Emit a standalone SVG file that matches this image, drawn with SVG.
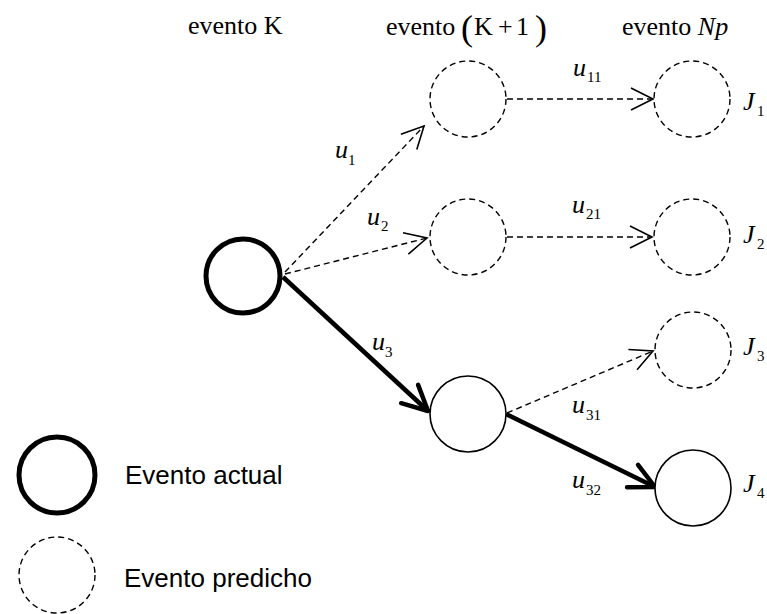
<svg xmlns="http://www.w3.org/2000/svg" width="767" height="614" viewBox="0 0 767 614">
<style>
  .serif{font-family:"Liberation Serif","Times New Roman",serif;fill:#000}
  .hdr{font-size:26px}
  .u{font-size:26px;font-style:italic}
  .sub{font-size:15px;font-style:normal}
  .J{font-size:26px;font-style:italic}
  .sans{font-family:"Liberation Sans",Arial,sans-serif;font-size:26px;fill:#000}
  .pred{fill:#fff;stroke:#000;stroke-width:1.4;stroke-dasharray:6 4}
  .act{fill:#fff;stroke:#000;stroke-width:5}
  .sol{fill:#fff;stroke:#000;stroke-width:1.6}
  .dl{fill:none;stroke:#000;stroke-width:1.4;stroke-dasharray:6 4}
  .tl{fill:none;stroke:#000;stroke-width:4.5}
</style>
<defs>
  <marker id="ah-thin" markerUnits="userSpaceOnUse" viewBox="-30 -16 34 32" refX="0" refY="0" markerWidth="34" markerHeight="32" orient="auto" overflow="visible">
    <path d="M-22,-11 L0,0 L-22,11" fill="none" stroke="#000" stroke-width="1.6" stroke-linejoin="miter"/>
  </marker>
  <marker id="ah-thick" markerUnits="userSpaceOnUse" viewBox="-30 -16 34 32" refX="0" refY="0" markerWidth="34" markerHeight="32" orient="auto" overflow="visible">
    <path d="M-25,-12.5 L0,0 L-25,12.5" fill="none" stroke="#000" stroke-width="4.5" stroke-linecap="round" stroke-linejoin="round"/>
  </marker>
</defs>

<g id="headers">
  <text class="serif hdr" x="188" y="34">evento K</text>
  <text class="serif hdr" x="386" y="35">evento</text>
  <text class="serif" x="461" y="40" font-size="36">(</text>
  <text class="serif hdr" x="474" y="35">K</text>
  <text class="serif hdr" x="498" y="35">+</text>
  <text class="serif hdr" x="516" y="35">1</text>
  <text class="serif" x="535" y="40" font-size="36">)</text>
  <text class="serif hdr" x="622" y="35">evento <tspan font-style="italic">Np</tspan></text>
</g>

<g id="connectors">
  <line class="dl" x1="285" y1="272" x2="424" y2="126" marker-end="url(#ah-thin)"/>
  <line class="dl" x1="285" y1="274" x2="427" y2="238" marker-end="url(#ah-thin)"/>
  <line class="tl" x1="283" y1="277" x2="428" y2="411" marker-end="url(#ah-thick)"/>
  <line class="dl" x1="507" y1="99" x2="653" y2="99" marker-end="url(#ah-thin)"/>
  <line class="dl" x1="507" y1="237" x2="652" y2="237" marker-end="url(#ah-thin)"/>
  <line class="dl" x1="507" y1="413" x2="653" y2="351" marker-end="url(#ah-thin)"/>
  <line class="tl" x1="506" y1="414" x2="655" y2="487" marker-end="url(#ah-thick)"/>
</g>

<g id="labels">
  <text class="serif u" x="335" y="158">u<tspan class="sub" x="348" y="165">1</tspan></text>
  <text class="serif u" x="367" y="225">u<tspan class="sub" x="381" y="231">2</tspan></text>
  <text class="serif u" x="372" y="350">u<tspan class="sub" x="385" y="357">3</tspan></text>
  <text class="serif u" x="573" y="76">u<tspan class="sub" x="587" y="82">11</tspan></text>
  <text class="serif u" x="572" y="213">u<tspan class="sub" x="586" y="219">21</tspan></text>
  <text class="serif u" x="572" y="413">u<tspan class="sub" x="586" y="420">31</tspan></text>
  <text class="serif u" x="572" y="488">u<tspan class="sub" x="586" y="495">32</tspan></text>
</g>

<g id="node-k">
  <circle class="act" cx="243" cy="276" r="37"/>
</g>
<g id="node-k1-1">
  <circle class="pred" cx="468" cy="99" r="38"/>
</g>
<g id="node-k1-2">
  <circle class="pred" cx="468" cy="237" r="38"/>
</g>
<g id="node-k1-3">
  <circle class="sol" cx="468" cy="414" r="38"/>
</g>
<g id="node-j1">
  <circle class="pred" cx="692" cy="99" r="38"/>
  <text class="serif J" x="743" y="110">J<tspan class="sub" x="757" y="116">1</tspan></text>
</g>
<g id="node-j2">
  <circle class="pred" cx="692" cy="237" r="38"/>
  <text class="serif J" x="743" y="243">J<tspan class="sub" x="757" y="249">2</tspan></text>
</g>
<g id="node-j3">
  <circle class="pred" cx="693" cy="350" r="38"/>
  <text class="serif J" x="743" y="355">J<tspan class="sub" x="757" y="361">3</tspan></text>
</g>
<g id="node-j4">
  <circle class="sol" cx="693" cy="488" r="38"/>
  <text class="serif J" x="743" y="492">J<tspan class="sub" x="757" y="498">4</tspan></text>
</g>

<g id="legend-actual">
  <circle class="act" cx="57" cy="475" r="38"/>
  <text class="sans" x="125" y="484">Evento actual</text>
</g>
<g id="legend-predicho">
  <circle class="pred" cx="57" cy="575" r="38"/>
  <text class="sans" x="124" y="587">Evento predicho</text>
</g>
</svg>
